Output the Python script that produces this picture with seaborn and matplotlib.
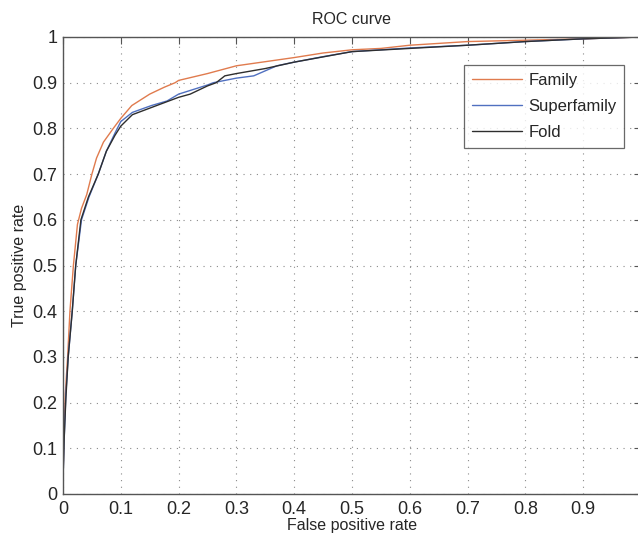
import pandas as pd
import matplotlib
matplotlib.use("Agg")
import matplotlib.pyplot as plt
import seaborn as sns

# ROC points (false positive rate, true positive rate)
family_fpr = [0.0, 0.002, 0.004, 0.008, 0.012, 0.018, 0.025, 0.032, 0.041, 0.05, 0.058, 0.07,
              0.087, 0.10, 0.119, 0.15, 0.175, 0.194, 0.2, 0.25, 0.3, 0.35, 0.4, 0.45, 0.5,
              0.55, 0.6, 0.65, 0.7, 0.8, 0.9, 1.0]
family_tpr = [0.03, 0.15, 0.22, 0.30, 0.40, 0.50, 0.59, 0.625, 0.655, 0.70, 0.735, 0.77,
              0.80, 0.822, 0.85, 0.875, 0.89, 0.90, 0.905, 0.92, 0.937, 0.946, 0.955, 0.965,
              0.972, 0.975, 0.982, 0.986, 0.99, 0.993, 0.996, 1.0]

superfamily_fpr = [0.0, 0.002, 0.005, 0.009, 0.016, 0.022, 0.032, 0.045, 0.061, 0.075, 0.09,
                   0.10, 0.12, 0.153, 0.18, 0.2, 0.25, 0.26, 0.3, 0.33, 0.37, 0.4, 0.45, 0.5,
                   0.6, 0.7, 0.8, 0.9, 1.0]
superfamily_tpr = [0.03, 0.12, 0.22, 0.30, 0.40, 0.50, 0.60, 0.65, 0.70, 0.75, 0.79,
                   0.815, 0.835, 0.85, 0.86, 0.875, 0.895, 0.90, 0.91, 0.915, 0.937, 0.945,
                   0.957, 0.968, 0.976, 0.982, 0.99, 0.996, 1.0]

fold_fpr = [0.0, 0.002, 0.005, 0.009, 0.016, 0.022, 0.031, 0.044, 0.061, 0.075, 0.09,
            0.10, 0.12, 0.162, 0.2, 0.22, 0.25, 0.265, 0.28, 0.3, 0.35, 0.4, 0.5, 0.6, 0.7,
            0.8, 0.9, 1.0]
fold_tpr = [0.03, 0.12, 0.21, 0.30, 0.40, 0.50, 0.60, 0.65, 0.70, 0.75, 0.785,
            0.805, 0.83, 0.85, 0.868, 0.875, 0.893, 0.90, 0.915, 0.92, 0.931, 0.945, 0.968,
            0.975, 0.982, 0.99, 0.996, 1.0]

labels = ["Family", "Superfamily", "Fold"]
colors = {"Family": "#e07b4e", "Superfamily": "#5070c0", "Fold": "#2e2e2e"}

df = pd.concat([
    pd.DataFrame({"fpr": family_fpr, "tpr": family_tpr, "set": "Family"}),
    pd.DataFrame({"fpr": superfamily_fpr, "tpr": superfamily_tpr, "set": "Superfamily"}),
    pd.DataFrame({"fpr": fold_fpr, "tpr": fold_tpr, "set": "Fold"}),
], ignore_index=True)

sns.set_style("white")
plt.rcParams["font.family"] = ["Liberation Sans", "DejaVu Sans"]

fig = plt.figure(figsize=(6.38, 5.35), dpi=100)
ax = fig.add_axes([63 / 638, 41 / 535, 578 / 638, 457 / 535])

sns.lineplot(data=df, x="fpr", y="tpr", hue="set", hue_order=labels, palette=colors,
             sort=False, estimator=None, linewidth=1.0, ax=ax)

ax.set_xlim(0, 1)
ax.set_ylim(0, 1)
ticks = [i / 10 for i in range(11)]
ax.set_xticks(ticks)
ax.set_yticks(ticks)
# the x label at 1 falls off the right edge in the reference
ax.set_xticklabels(["0"] + [f"{t:.1f}" for t in ticks[1:-1]] + [""], fontsize=13)
ax.set_yticklabels(["0"] + [f"{t:.1f}" for t in ticks[1:-1]] + ["1"], fontsize=13)
ax.tick_params(direction="in", length=5, width=0.8, color="#555555",
               top=True, right=True, pad=4)
ax.tick_params(axis="x", pad=5)
ax.grid(True, linestyle=(0, (1, 5)), color="#8a8a8a", linewidth=0.8)
for s in ax.spines.values():
    s.set_color("#555555")
    s.set_linewidth(1.0)

ax.set_title("ROC curve", fontsize=11.5, pad=9)
ax.set_xlabel("False positive rate", fontsize=11.5, labelpad=0)
ax.set_ylabel("True positive rate", fontsize=11.5, labelpad=4)

leg = ax.legend(loc="upper right", bbox_to_anchor=(0.9706, 0.9387), borderaxespad=0,
                fontsize=12, frameon=True, fancybox=False, borderpad=0.45,
                handlelength=3.0, labelspacing=0.68, handletextpad=0.38)
leg.get_frame().set_edgecolor("#444444")
leg.get_frame().set_linewidth(0.9)

fig.savefig("out.png", dpi=100)
